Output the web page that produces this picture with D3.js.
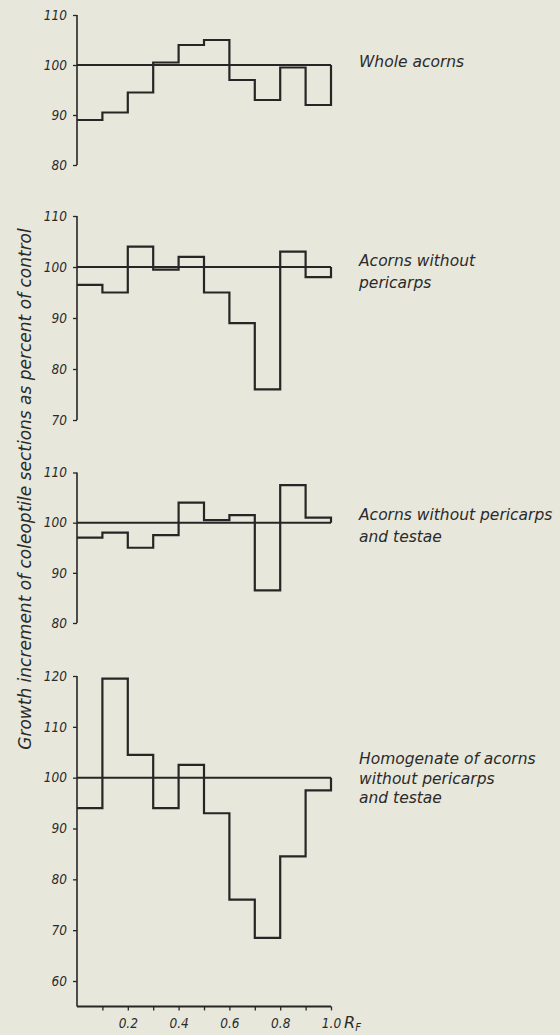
<!DOCTYPE html>
<html>
<head>
<meta charset="utf-8">
<script src="https://cdn.jsdelivr.net/npm/d3@7"></script>
<style>
  html, body { margin: 0; padding: 0; background: #e8e7db; }
  svg { display: block; }
  text { font-family: "DejaVu Sans", sans-serif; font-style: italic; fill: #2b2b2b; }
</style>
</head>
<body>
<script>
// Bin starts (R_F)
const binStarts = [0.0, 0.1, 0.2, 0.3, 0.4, 0.5, 0.6, 0.7, 0.8, 0.9];
const xTickValues = [0.1, 0.2, 0.3, 0.4, 0.5, 0.6, 0.7, 0.8, 0.9, 1.0];
const xTickLabels = ["", "0.2", "", "0.4", "", "0.6", "", "0.8", "", "1.0"];

// Series (percent of control)
const wholeAcorns      = [89, 90.5, 94.5, 100.5, 104, 105, 97, 93, 99.5, 92];
const withoutPericarps = [96.5, 95, 104, 99.5, 102, 95, 89, 76, 103, 98];
const withoutPericTest = [97, 98, 95, 97.5, 104, 100.5, 101.5, 86.5, 107.5, 101];
const homogenate       = [94, 119.5, 104.5, 94, 102.5, 93, 76, 68.5, 84.5, 97.5];

// Y tick values per panel
const ticks1 = [80, 90, 100, 110];
const ticks2 = [70, 80, 90, 100, 110];
const ticks3 = [80, 90, 100, 110];
const ticks4 = [60, 70, 80, 90, 100, 110, 120];

// Panel labels
const labels1 = ["Whole acorns"];
const labels2 = ["Acorns without", "pericarps"];
const labels3 = ["Acorns without pericarps", "and testae"];
const labels4 = ["Homogenate of acorns", "without pericarps", "and testae"];

const yTitle = "Growth increment of coleoptile sections as percent of control";

const W = 560, H = 1035;
const svg = d3.select("body").append("svg").attr("width", W).attr("height", H);

const x = d3.scaleLinear().domain([0, 1]).range([77, 331]);
const ink = "#262626";
const tickFont = "'DejaVu Sans Condensed', 'DejaVu Sans', sans-serif";

const panels = [
  { data: wholeAcorns, ticks: ticks1, domain: [80, 110], range: [165, 15], axisEnd: 80, labels: labels1, labelY: 67, lh: 21 },
  { data: withoutPericarps, ticks: ticks2, domain: [70, 110], range: [420, 216], axisEnd: 70, labels: labels2, labelY: 266, lh: 21.5 },
  { data: withoutPericTest, ticks: ticks3, domain: [80, 110], range: [623, 472.5], axisEnd: 80, labels: labels3, labelY: 520, lh: 21.5 },
  { data: homogenate, ticks: ticks4, domain: [60, 120], range: [981, 676], axisEnd: 55, labels: labels4, labelY: 764, lh: 19.5 }
];

panels.forEach((p, pi) => {
  const y = d3.scaleLinear().domain(p.domain).range(p.range);
  const g = svg.append("g");

  // y axis
  const axis = d3.axisLeft(y).tickValues(p.ticks).tickSize(4).tickPadding(6).tickFormat(d3.format("d"));
  const ag = g.append("g").attr("transform", `translate(${x(0)},0)`).call(axis);
  ag.select(".domain").remove();
  ag.selectAll(".tick line").attr("stroke", ink).attr("stroke-width", 1.3);
  ag.selectAll(".tick text").attr("font-size", 13.5).attr("fill", "#2b2b2b")
    .style("font-family", tickFont).style("font-style", "italic");
  g.append("line")
    .attr("x1", x(0)).attr("x2", x(0))
    .attr("y1", y(d3.max(p.ticks))).attr("y2", y(p.axisEnd))
    .attr("stroke", ink).attr("stroke-width", 1.6);

  // 100 reference line
  g.append("line")
    .attr("x1", x(0)).attr("x2", x(1))
    .attr("y1", y(100)).attr("y2", y(100))
    .attr("stroke", ink).attr("stroke-width", 2);

  // step histogram
  const pts = binStarts.map((b, i) => [b, p.data[i]]);
  pts.push([1.0, p.data[p.data.length - 1]]);
  pts.push([1.0, 100]);
  const line = d3.line().x(d => x(d[0])).y(d => y(d[1])).curve(d3.curveStepAfter);
  g.append("path").attr("d", line(pts))
    .attr("fill", "none").attr("stroke", ink).attr("stroke-width", 2.2)
    .attr("stroke-linejoin", "miter");

  // labels
  p.labels.forEach((t, i) => {
    g.append("text").attr("x", 359).attr("y", p.labelY + i * p.lh)
      .attr("font-size", 15.5).text(t);
  });

  // x axis for last panel
  if (pi === panels.length - 1) {
    const yb = y(p.axisEnd);
    const xa = d3.axisBottom(x).tickValues(xTickValues).tickSize(4).tickPadding(8)
      .tickFormat((d, i) => xTickLabels[i]);
    const xg = svg.append("g").attr("transform", `translate(0,${yb})`).call(xa);
    xg.select(".domain").remove();
    xg.selectAll(".tick line").attr("stroke", ink).attr("stroke-width", 1.3);
    xg.selectAll(".tick text").attr("font-size", 13.5).attr("fill", "#2b2b2b")
      .style("font-family", tickFont).style("font-style", "italic");
    svg.append("line").attr("x1", x(0)).attr("x2", x(1)).attr("y1", yb).attr("y2", yb)
      .attr("stroke", ink).attr("stroke-width", 2);
    const rf = svg.append("text").attr("x", x(1) + 13).attr("y", yb + 22).attr("font-size", 16);
    rf.append("tspan").text("R");
    rf.append("tspan").attr("font-size", 10).attr("dy", 3).text("F");
  }
});

// Y-axis title
svg.append("text")
  .attr("transform", `translate(31,489) rotate(-90)`)
  .attr("text-anchor", "middle")
  .attr("font-size", 17)
  .text(yTitle);
</script>
</body>
</html>
